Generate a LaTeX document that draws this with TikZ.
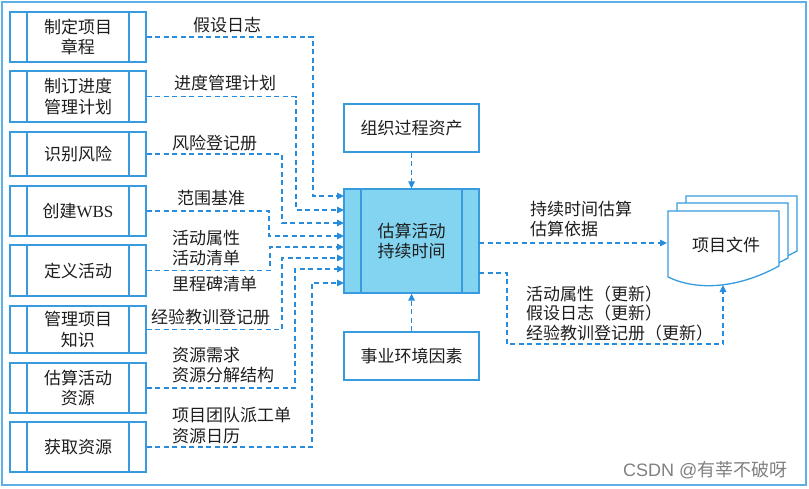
\documentclass[tikz,border=0pt]{standalone}
\usepackage{fontspec}
\setmainfont{Noto Sans CJK SC}
\newfontfamily\wbsfont{Liberation Serif}
\newfontfamily\wmfont{Liberation Sans}
\usetikzlibrary{arrows.meta,calc}
\definecolor{lineblue}{RGB}{40,140,220}
\definecolor{boxblue}{RGB}{55,155,222}
\definecolor{mainfill}{RGB}{130,212,240}
\definecolor{framec}{RGB}{95,175,230}
\definecolor{txt}{RGB}{30,30,30}
\tikzset{
  txtfont/.style={font=\fontsize{17}{20.5}\selectfont, text=txt},
  pbox/.style={draw=boxblue, line width=1.3pt, fill=white, minimum width=136pt,
    align=center, inner sep=0pt, txtfont,
    path picture={
      \draw[boxblue, line width=1.3pt]
        ($(path picture bounding box.north west)+(17pt,0)$) -- ($(path picture bounding box.south west)+(17pt,0)$)
        ($(path picture bounding box.north east)+(-17pt,0)$) -- ($(path picture bounding box.south east)+(-17pt,0)$);
    }},
  plainbox/.style={draw=boxblue, line width=1.3pt, fill=white, minimum width=135pt,
    minimum height=48pt, align=center, inner sep=0pt, txtfont},
  lbl/.style={anchor=west, inner sep=0pt, align=left, txtfont},
  conn/.style={draw=lineblue, line width=1.35pt, dash pattern=on 5pt off 3.5pt,
    -{Triangle[length=7pt,width=6.5pt]}},
  sheet/.style={draw=boxblue, line width=1.3pt, fill=white}
}
\newcommand\docsheet[2]{%
  \path[sheet, shift={(#1,#2)}] (668,211) -- (779,211) -- (779,266)
    .. controls (735,290) and (695,290) .. (668,277) -- cycle;}
\begin{document}
\begin{tikzpicture}[x=1pt,y=-1pt]
\useasboundingbox (0,0) rectangle (809,488);
\draw[framec, line width=1.5pt] (2,2) rectangle (806,485);

% left process boxes
\node[pbox, minimum height=50pt] (b1) at (78,37)    {制定项目\\章程};
\node[pbox, minimum height=51pt] (b2) at (78,96.5)  {制订进度\\管理计划};
\node[pbox, minimum height=44pt] (b3) at (78,154)   {识别风险};
\node[pbox, minimum height=50pt] (b4) at (78,211)   {创建{\wbsfont WBS}};
\node[pbox, minimum height=51pt] (b5) at (78,270.5) {定义活动};
\node[pbox, minimum height=47pt] (b6) at (78,329.5) {管理项目\\知识};
\node[pbox, minimum height=50pt] (b7) at (78,388)   {估算活动\\资源};
\node[pbox, minimum height=50pt] (b8) at (78,447)   {获取资源};

% main process
\node[pbox, fill=mainfill, minimum width=135pt, minimum height=104pt] (m) at (411.5,241) {估算活动\\持续时间};
\node[plainbox] (opa) at (411.5,128) {组织过程资产};
\node[plainbox] (eef) at (411.5,356) {事业环境因素};

% project documents
\docsheet{18}{-15}
\docsheet{9}{-8}
\docsheet{0}{0}
\node[txtfont, inner sep=0pt] (doc) at (726,245) {项目文件};

% input connectors
\draw[conn] (b1.east) -| (313,196) -- (344,196);
\draw[conn] (b2.east) -| (296,210) -- (344,210);
\draw[conn] (b3.east) -| (282,223) -- (344,223);
\draw[conn] (b4.east) -| (269,236) -- (344,236);
\draw[conn] (b5.east) -| (270,247) -- (344,247);
\draw[conn] (b6.east) -| (282,258) -- (344,258);
\draw[conn] (b7.east) -| (295,269) -- (344,269);
\draw[conn] (b8.east) -| (312,283) -- (344,283);
\draw[conn] (opa) -- (m);
\draw[conn] (eef) -- (m);

% output connectors
\draw[conn] (479,243) -- (667,243);
\draw[conn] (479,273) -| (507,344) -| (723,285);

% labels
\node[lbl] at (193,25)  {假设日志};
\node[lbl] at (174,83)  {进度管理计划};
\node[lbl] at (172,143) {风险登记册};
\node[lbl] at (177,198) {范围基准};
\node[lbl] at (172,248) {活动属性\\活动清单};
\node[lbl] at (172,284) {里程碑清单};
\node[lbl] at (151,317) {经验教训登记册};
\node[lbl] at (172,365) {资源需求\\资源分解结构};
\node[lbl] at (172,425.5) {项目团队派工单\\资源日历};
\node[lbl] at (530,219) {持续时间估算\\估算依据};
\node[lbl, font=\fontsize{17}{19.5}\selectfont] at (526,313.5) {活动属性（更新）\\假设日志（更新）\\经验教训登记册（更新）};

% watermark
\node[anchor=west, inner sep=0pt, text=black!50, font=\fontsize{18}{18}\selectfont] at (623,470) {{\wmfont CSDN @}有莘不破呀};
\end{tikzpicture}
\end{document}
